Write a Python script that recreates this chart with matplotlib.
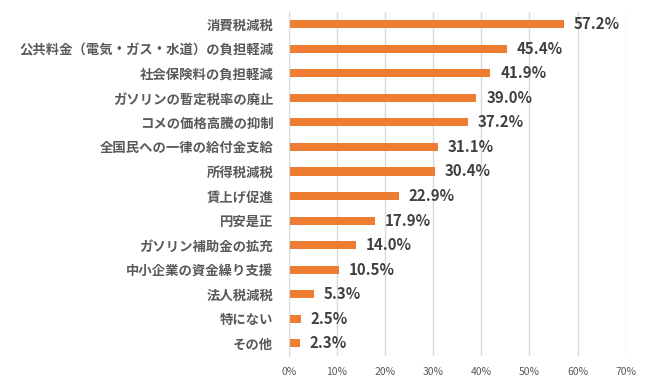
import matplotlib
matplotlib.use("Agg")
import matplotlib.pyplot as plt

plt.rcParams['font.family'] = ['Noto Sans CJK JP', 'DejaVu Sans']

categories = ["消費税減税", "公共料金（電気・ガス・水道）の負担軽減", "社会保険料の負担軽減",
              "ガソリンの暫定税率の廃止", "コメの価格高騰の抑制", "全国民への一律の給付金支給",
              "所得税減税", "賃上げ促進", "円安是正", "ガソリン補助金の拡充",
              "中小企業の資金繰り支援", "法人税減税", "特にない", "その他"]
values = [57.2, 45.4, 41.9, 39.0, 37.2, 31.1, 30.4, 22.9, 17.9, 14.0, 10.5, 5.3, 2.5, 2.3]
xticks = [0, 10, 20, 30, 40, 50, 60, 70]

fig = plt.figure(figsize=(6.56, 3.82), dpi=100)
ax = fig.add_axes([0.440, 0.069, 0.514, 0.900])

y = list(range(len(categories)))
ax.barh(y, values, height=0.33, color="#ED7D31", zorder=3)
ax.set_ylim(len(categories) - 0.5, -0.5)
ax.set_xlim(0, 70)

for yi, v in zip(y, values):
    ax.annotate(f"{v:.1f}%", xy=(v, yi), xytext=(7, 0), textcoords="offset points",
                ha="left", va="center", fontsize=10.8, fontweight="bold", color="#404040")

ax.set_yticks(y)
ax.set_yticklabels(categories, fontsize=9.6, fontweight="bold", color="#595959")
ax.set_xticks(xticks)
ax.set_xticklabels([f"{t}%" for t in xticks], fontsize=7.5, color="#595959")
ax.tick_params(axis="y", length=0, pad=11)
ax.tick_params(axis="x", length=0, pad=8)

ax.grid(axis="x", color="#D9D9D9", linewidth=1, zorder=0)
for s in ["top", "right", "bottom"]:
    ax.spines[s].set_visible(False)
ax.spines["left"].set_color("#D9D9D9")
ax.spines["left"].set_zorder(4)

fig.savefig("out.png", dpi=100)
